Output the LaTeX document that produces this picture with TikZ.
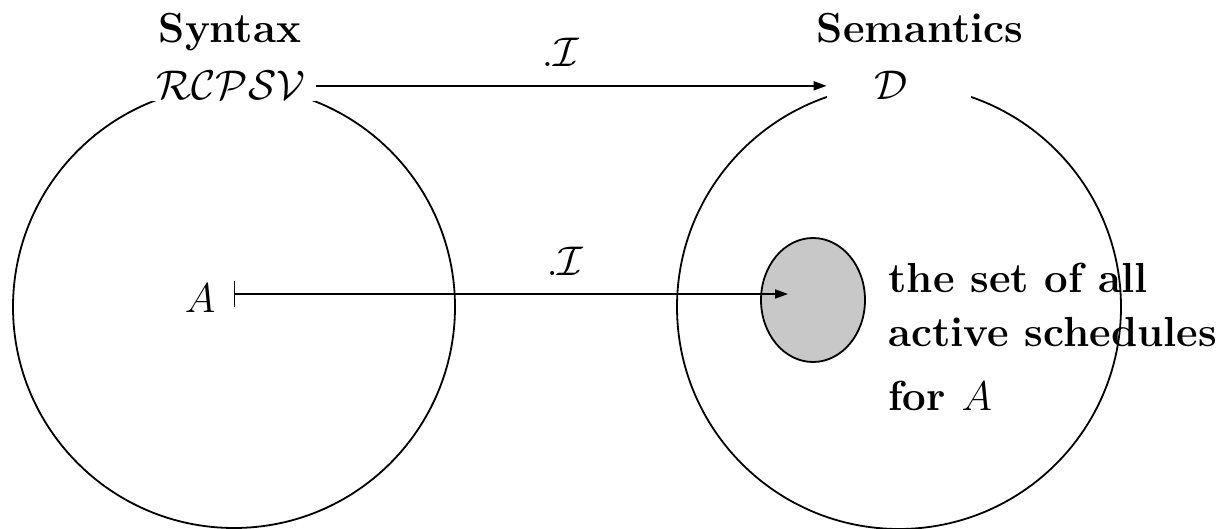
\documentclass[tikz,border=0pt]{standalone}
\usetikzlibrary{arrows.meta,shapes.geometric}
\definecolor{setgray}{RGB}{200,200,200}
\begin{document}
\begin{tikzpicture}[x=0.5pt,y=-0.5pt,
  every node/.style={font=\huge},
  circleline/.style={draw=black,line width=0.9pt},
  titletext/.style={font=\fontsize{21}{25}\selectfont\bfseries,anchor=base},
  dombox/.style={fill=white,inner ysep=0.5pt,anchor=base},
  maparrow/.style={line width=0.9pt,-{Triangle[length=6.5pt,width=4.5pt]}},
  mapstoarrow/.style={line width=0.9pt,{Bar[width=13pt]}-{Triangle[length=6.5pt,width=4.5pt]}},
  interplabel/.style={anchor=base,inner sep=0pt}]
\useasboundingbox (0,0) rectangle (1225,529);
% circles
\draw[circleline] (234,307) circle[radius=110.5pt];
\draw[circleline] (899,307) circle[radius=111pt];
% titles
\node[titletext] (syn) at (230,43) {Syntax};
\node[titletext] (sem) at (920,43) {Semantics};
% domain nodes
\node[dombox,minimum width=85pt] (rcpsv) at (231,100) {$\mathcal{RCPSV}$};
\node[dombox,minimum width=72pt,inner ysep=0pt] (D) at (899,100) {$\mathcal{D}$\hspace*{8pt}};
% active schedules set
\node[draw=black,line width=0.9pt,fill=setgray,ellipse,minimum width=52pt,minimum height=62pt,inner sep=0pt] (S) at (813,300) {};
\node[font=\fontsize{21}{27}\selectfont\bfseries,align=left,anchor=north west,inner sep=0pt] (txt) at (888,263) {the set of all\\active schedules\\[5pt]for $A$};
% A
\node[anchor=base,inner xsep=9pt] (A) at (200,312) {$A$};
\coordinate (tip) at (788,294);
% arrows
\draw[maparrow] (rcpsv.east) -- (rcpsv.east -| D.west)
  node[interplabel,pos=0.478,yshift=9.5pt] (l1) {$.\mathcal{I}$};
\draw[mapstoarrow] (A.east |- tip) -- (tip)
  node[interplabel,pos=0.598,yshift=9pt] (l2) {$.\mathcal{I}$};
\end{tikzpicture}
\end{document}
